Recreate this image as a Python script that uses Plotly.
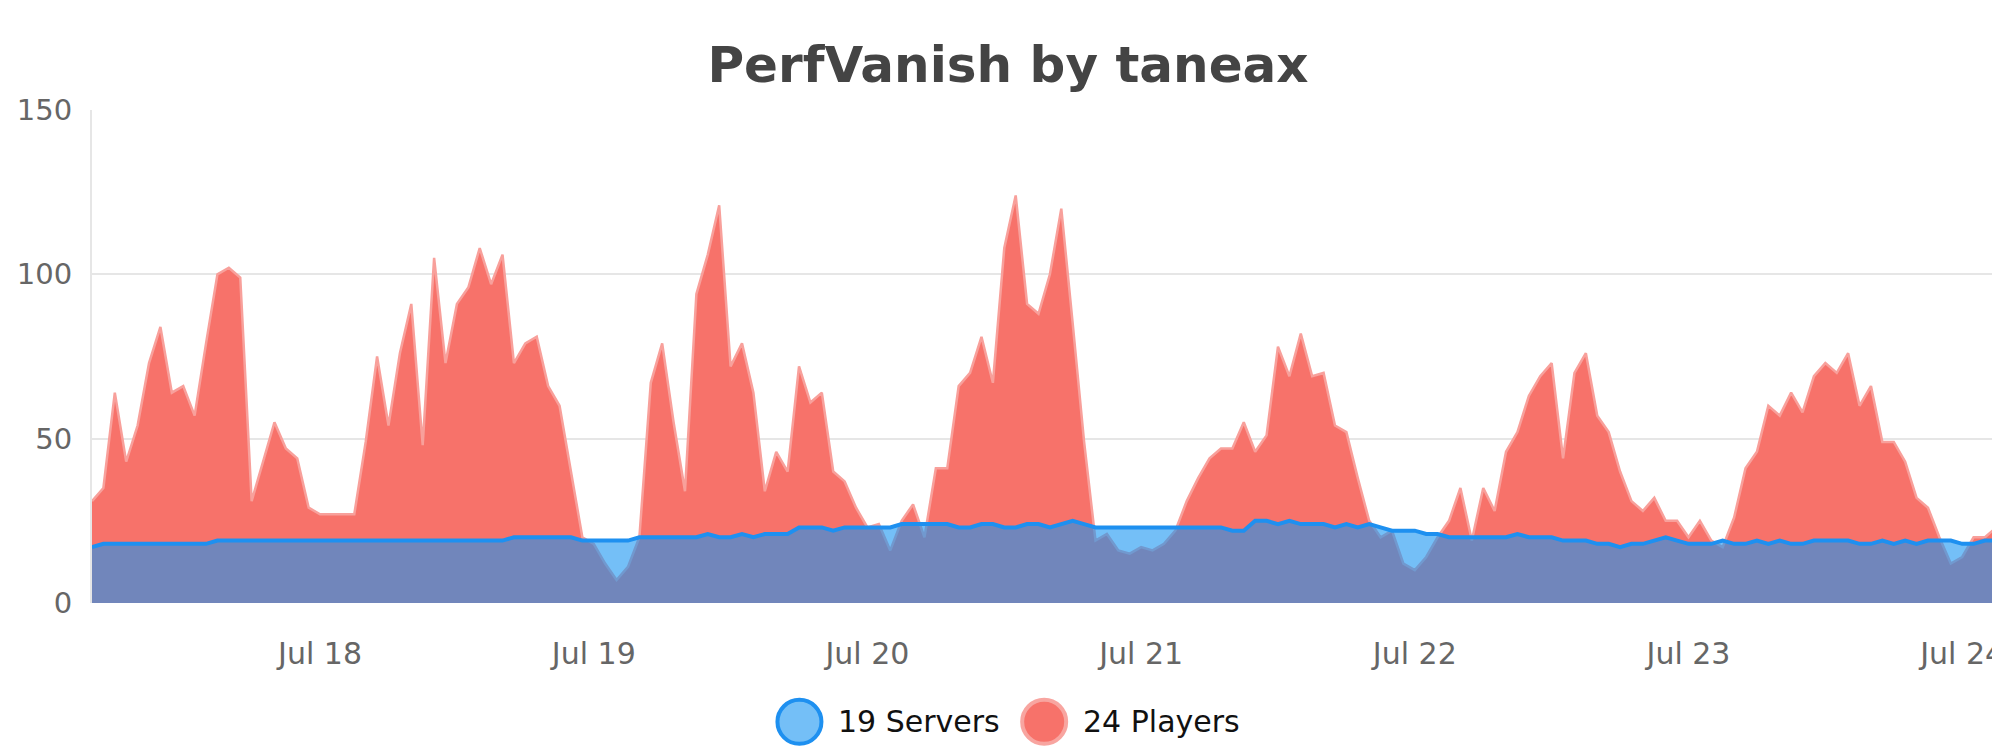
import pandas as pd
import plotly.graph_objects as go

# -----------------------------------------
# DATA (hourly, from Jul 17 04:00)
# -----------------------------------------
start = "2019-07-17 04:00"

players = [
    31, 35, 64, 43, 54, 73, 84, 64, 66, 57, 79, 100, 102, 99, 31, 43, 55, 47, 44, 29, 27, 27, 27, 27,
    49, 75, 54, 76, 91, 48, 105, 73, 91, 96, 108, 97, 106, 73, 79, 81, 66, 60, 40, 20, 18, 12, 7, 11,
    20, 67, 79, 55, 34, 94, 106, 121, 72, 79, 64, 34, 46, 40, 72, 61, 64, 40, 37, 29, 23, 24, 16, 25,
    30, 20, 41, 41, 66, 70, 81, 67, 108, 124, 91, 88, 100, 120, 85, 49, 19, 21, 16, 15, 17, 16, 18, 22,
    31, 38, 44, 47, 47, 55, 46, 51, 78, 69, 82, 69, 70, 54, 52, 38, 25, 20, 22, 12, 10, 14, 20, 25,
    35, 19, 35, 28, 46, 52, 63, 69, 73, 44, 70, 76, 57, 52, 40, 31, 28, 32, 25, 25, 20, 25, 19, 17,
    26, 41, 46, 60, 57, 64, 58, 69, 73, 70, 76, 60, 66, 49, 49, 43, 32, 29, 20, 12, 14, 20, 20, 23,
]

servers = [
    17, 18, 18, 18, 18, 18, 18, 18, 18, 18, 18, 19, 19, 19, 19, 19, 19, 19, 19, 19, 19, 19, 19, 19,
    19, 19, 19, 19, 19, 19, 19, 19, 19, 19, 19, 19, 19, 20, 20, 20, 20, 20, 20, 19, 19, 19, 19, 19,
    20, 20, 20, 20, 20, 20, 21, 20, 20, 21, 20, 21, 21, 21, 23, 23, 23, 22, 23, 23, 23, 23, 23, 24,
    24, 24, 24, 24, 23, 23, 24, 24, 23, 23, 24, 24, 23, 24, 25, 24, 23, 23, 23, 23, 23, 23, 23, 23,
    23, 23, 23, 23, 22, 22, 25, 25, 24, 25, 24, 24, 24, 23, 24, 23, 24, 23, 22, 22, 22, 21, 21, 20,
    20, 20, 20, 20, 20, 21, 20, 20, 20, 19, 19, 19, 18, 18, 17, 18, 18, 19, 20, 19, 18, 18, 18, 19,
    18, 18, 19, 18, 19, 18, 18, 19, 19, 19, 19, 18, 18, 19, 18, 19, 18, 19, 19, 19, 18, 18, 19, 19,
]

times = pd.date_range(start, periods=len(players), freq="h")

legend_names = ["19 Servers", "24 Players"]

# -----------------------------------------
# FIGURE
# -----------------------------------------
fig = go.Figure()

fig.add_trace(go.Scatter(
    x=times, y=players, mode="lines", fill="tozeroy",
    fillcolor="#F7726A", line=dict(color="rgba(248,160,155,1)", width=2.5),
    showlegend=False, hoverinfo="skip",
))
fig.add_trace(go.Scatter(
    x=times, y=servers, mode="lines", fill="tozeroy",
    fillcolor="rgba(23,148,242,0.6)", line=dict(color="#1E90F0", width=4),
    showlegend=False, hoverinfo="skip",
))

# legend drawn by hand (plotly caps legend symbol size)
legend_items = [
    (0.370, 0.389, "#74BFF7", "#1E90F0"),
    (0.498, 0.517, "#F7726A", "#F8A5A0"),
]
for name, (cx, tx, fill, edge) in zip(legend_names, legend_items):
    fig.add_shape(type="circle", xref="paper", yref="paper",
                  xsizemode="pixel", ysizemode="pixel", xanchor=cx, yanchor=-0.241,
                  x0=-22, x1=22, y0=-22, y1=22,
                  fillcolor=fill, line=dict(color=edge, width=4))
    fig.add_annotation(x=tx, y=-0.241, xref="paper", yref="paper", text=name,
                       showarrow=False, xanchor="left", yanchor="middle",
                       font=dict(size=30, color="#111"))

fig.update_layout(
    width=2000, height=750,
    paper_bgcolor="white", plot_bgcolor="white",
    font=dict(family="DejaVu Sans", size=24, color="#666"),
    title=dict(text="<b>PerfVanish by taneax</b>", x=0.5, xanchor="center",
               y=0.925, yanchor="middle", font=dict(size=50, color="#444")),
    margin=dict(l=84, r=4, t=102, b=155),
    showlegend=False,
)
fig.update_xaxes(
    type="date", range=[times[0], pd.Timestamp("2019-07-24 03:40")],
    tickformat="%b %d", dtick=86400000, tick0="2019-07-18",
    showgrid=False, showline=False, zeroline=False, ticks="",
    tickfont=dict(size=30, color="#666"), ticklabelstandoff=30,
)
fig.update_yaxes(
    range=[0, 150], dtick=50, showgrid=True, gridcolor="#e6e6e6", gridwidth=2,
    showline=True, linecolor="#e6e6e6", linewidth=2, zeroline=False,
    ticks="", tickfont=dict(size=29, color="#666"), ticklabelstandoff=12,
)

fig.write_html("out.html")
